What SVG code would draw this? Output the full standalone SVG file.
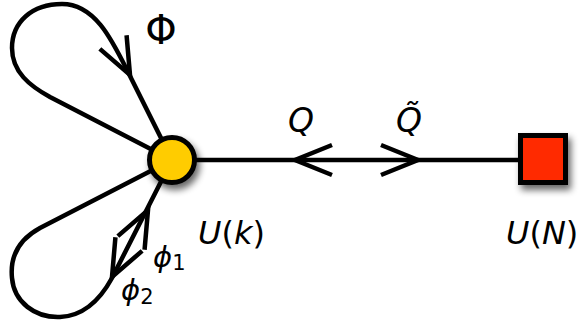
<svg xmlns="http://www.w3.org/2000/svg" width="579" height="329" viewBox="0 0 579 329">
<style>
.ln{fill:none;stroke:#000;stroke-width:4.5;stroke-linejoin:miter;stroke-linecap:butt}
.lbl{font-family:"DejaVu Sans",sans-serif;font-style:oblique;fill:#000}
.up{font-family:"DejaVu Sans",sans-serif;fill:#000}
.n{font-style:normal}
</style>
<defs>
<path id="chev" d="M-37,-15 L0,0 L-37,15" class="ln"/>
<filter id="sh" x="-50%" y="-50%" width="200%" height="200%">
<feGaussianBlur in="SourceAlpha" stdDeviation="3.5"/>
<feOffset dx="3" dy="5" result="b"/>
<feComponentTransfer><feFuncA type="linear" slope="0.6"/></feComponentTransfer>
<feMerge><feMergeNode/><feMergeNode in="SourceGraphic"/></feMerge>
</filter>
</defs>
<g id="connectors">
<path class="ln" d="M172,160 L128,72 C112,40 95,4 62,4 C32,4 12,22 12,48 C12,72 30,86 50,97 L172,160"/>
<path class="ln" d="M172,160 L40,228 C18,240 10,258 12,278 C14,302 35,318 60,317 C84,316 100,300 112,278 L172,160"/>
<path class="ln" d="M172,160 L543,160"/>
<use href="#chev" transform="translate(130,75) rotate(63)"/>
<use href="#chev" transform="translate(148,210) rotate(-63)"/>
<use href="#chev" transform="translate(112,277) rotate(117)"/>
<use href="#chev" transform="translate(295,160) rotate(180)"/>
<use href="#chev" transform="translate(418,160)"/>
</g>
<g id="node-k">
<circle cx="172" cy="160" r="22.5" fill="#ffcc00" stroke="#000" stroke-width="5" filter="url(#sh)"/>
<text class="lbl" x="198" y="244" font-size="32">U<tspan class="n">(</tspan>k<tspan class="n">)</tspan></text>
</g>
<g id="node-N">
<rect x="520.5" y="135.5" width="45" height="47" fill="#ff2a00" stroke="#000" stroke-width="5" filter="url(#sh)"/>
<text class="lbl" x="506" y="244" font-size="32">U<tspan class="n">(</tspan>N<tspan class="n">)</tspan></text>
</g>
<g id="labels">
<text class="up" x="161" y="44" font-size="40" text-anchor="middle">Φ</text>
<text class="lbl" x="301" y="132" font-size="33" text-anchor="middle">Q</text>
<text class="lbl" x="409" y="132" font-size="33" text-anchor="middle">Q̃</text>
<text class="lbl" x="153" y="267" font-size="29">ϕ<tspan font-size="21" font-style="normal" dy="3">1</tspan></text>
<text class="lbl" x="121" y="300" font-size="29">ϕ<tspan font-size="21" font-style="normal" dy="4">2</tspan></text>
</g>
</svg>
